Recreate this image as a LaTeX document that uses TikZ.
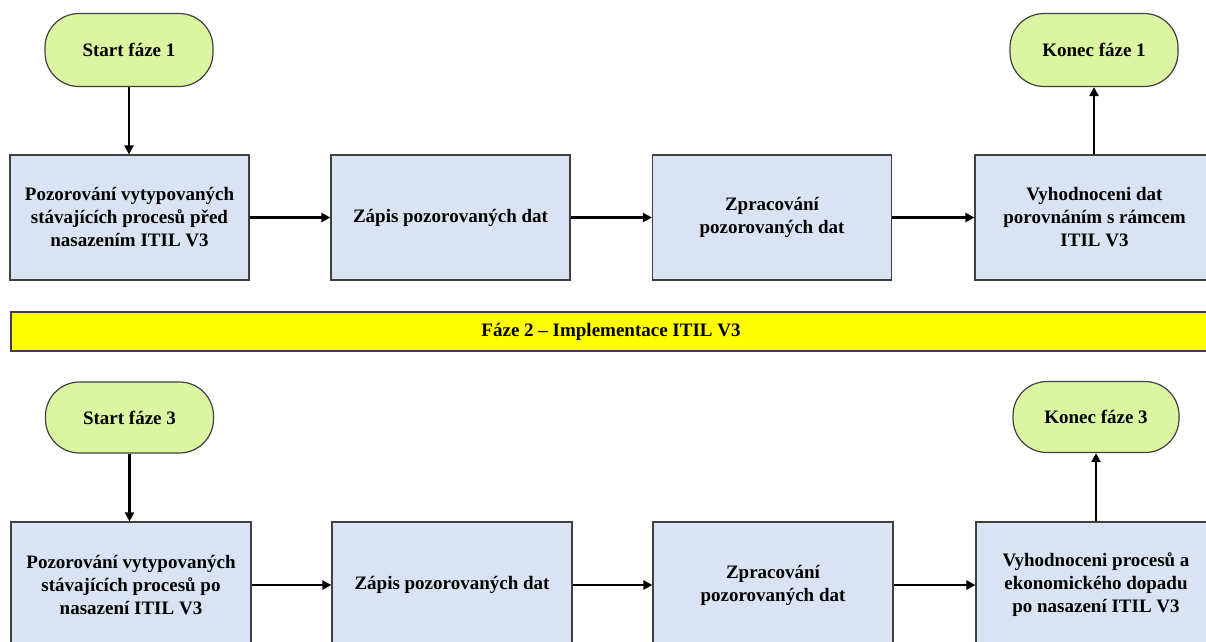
\documentclass[tikz,border=0pt]{standalone}
\usepackage{fontspec}
\setmainfont{Liberation Serif}
\usetikzlibrary{arrows.meta}
\definecolor{pillgreen}{HTML}{DCF5A2}
\definecolor{boxblue}{HTML}{DAE3F3}
\definecolor{edgegray}{HTML}{404040}
\definecolor{baryellow}{HTML}{FFFF00}
\begin{document}
\begin{tikzpicture}[x=1pt,y=-1pt,
  txt/.style={font=\bfseries\fontsize{19}{23}\selectfont, align=center, inner sep=0pt},
  box/.style={txt, draw=edgegray, line width=1.2pt, fill=boxblue, minimum width=239pt, minimum height=125pt},
  pill/.style={txt, draw=edgegray, line width=1.2pt, fill=pillgreen, rounded corners=34pt, minimum width=168pt, minimum height=73pt},
  bar/.style={txt, draw=edgegray, line width=1.2pt, fill=baryellow, minimum width=1200pt, minimum height=39pt},
  arr/.style={line width=2.3pt, -{Triangle[length=9pt,width=9pt]}}]
\useasboundingbox (0,0) rectangle (1206,641);
\clip (0,0) rectangle (1206,641);
% top row
\node[pill] (s1) at (129,50) {Start fáze 1};
\node[pill] (k1) at (1094,50) {Konec fáze 1};
\node[box] (b11) at (129.5,217.5) {Pozorování vytypovaných\\stávajících procesů před\\nasazením ITIL V3};
\node[box] (b12) at (450.5,217.5) {Zápis pozorovaných dat};
\node[box] (b13) at (772,217.5) {Zpracování\\pozorovaných dat};
\node[box] (b14) at (1094.5,217.5) {Vyhodnoceni dat\\porovnáním s rámcem\\ITIL V3};
\draw[arr] (s1.south) -- (s1.south |- b11.north);
\draw[arr] (b11) -- (b12);
\draw[arr] (b12) -- (b13);
\draw[arr] (b13) -- (b14);
\draw[arr] (b14.north -| k1.south) -- (k1.south);
% phase 2 bar
\node[bar] (f2) at (611,331.5) {Fáze 2 – Implementace ITIL V3};
% bottom row
\node[pill, minimum height=71pt] (s3) at (129.5,417.5) {Start fáze 3};
\node[pill, minimum height=71pt, minimum width=166pt] (k3) at (1096,417) {Konec fáze 3};
\node[box, minimum width=240pt, minimum height=126pt] (b31) at (131,585) {Pozorování vytypovaných\\stávajících procesů po\\nasazení ITIL V3};
\node[box, minimum width=240pt, minimum height=126pt] (b32) at (452,585) {Zápis pozorovaných dat};
\node[box, minimum width=240pt, minimum height=126pt] (b33) at (773,585) {Zpracování\\pozorovaných dat};
\node[box, minimum width=240pt, minimum height=126pt] (b34) at (1096,585) {Vyhodnoceni procesů a\\ekonomického dopadu\\po nasazení ITIL V3};
\draw[arr] (s3.south) -- (s3.south |- b31.north);
\draw[arr] (b31) -- (b32);
\draw[arr] (b32) -- (b33);
\draw[arr] (b33) -- (b34);
\draw[arr] (b34.north -| k3.south) -- (k3.south);
\end{tikzpicture}
\end{document}
